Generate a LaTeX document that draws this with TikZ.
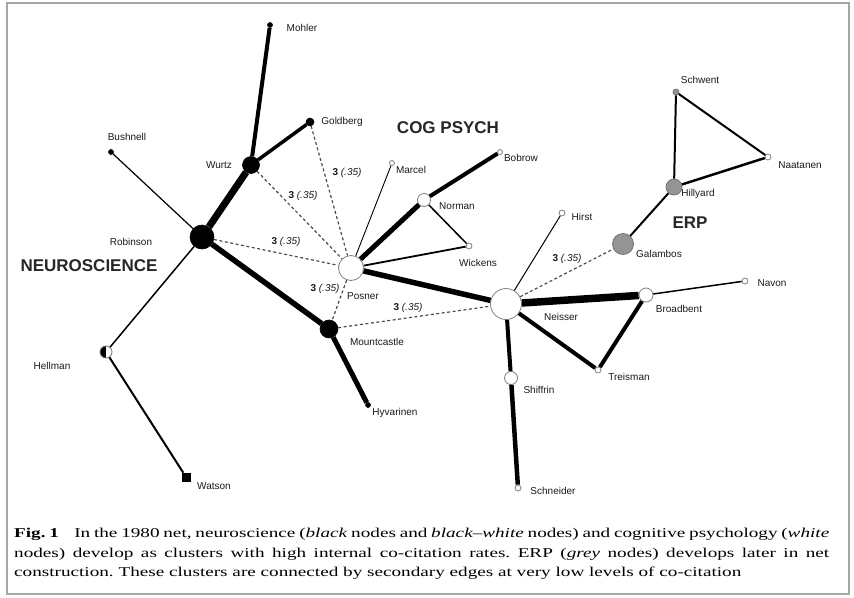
\documentclass[tikz,border=0pt]{standalone}
\usepackage{fontspec}
\setmainfont{Liberation Serif}
\setsansfont{Liberation Sans}
\usepackage{graphicx}

\begin{document}
\begin{tikzpicture}[x=1pt,y=-1pt,
  every node/.style={inner sep=0pt},
  blk/.style={circle,fill=black,draw=black,line width=0.6pt},
  wht/.style={circle,fill=white,draw=black!50,line width=0.8pt},
  gry/.style={circle,fill=black!42,draw=black!55,line width=0.8pt},
  hlf/.style={circle,fill=white,draw=black!55,line width=0.8pt,
    path picture={\fill[black] (path picture bounding box.south west) rectangle (path picture bounding box.north);}},
  nm/.style={font=\sffamily\fontsize{10}{11}\selectfont,text=black!90},
  grp/.style={font=\sffamily\bfseries\fontsize{17}{18}\selectfont,text=black!85},
  tie/.style={line width=#1},
  cit/.style={dash pattern=on 3pt off 2.5pt,line width=1.2pt,black!70},
  cv/.style={font=\sffamily\fontsize{10}{11}\selectfont,text=black!90}]
\useasboundingbox (0,0) rectangle (854,597);
\draw[black!35,line width=1.2pt] (7,3) rectangle (849,594);

% neuroscience
\node[blk,minimum size=24] (robinson) at (202,237) {};
\node[blk,minimum size=17] (wurtz) at (251,165) {};
\node[blk,minimum size=5] (mohler) at (270,25) {};
\node[blk,minimum size=8] (goldberg) at (310,122) {};
\node[blk,minimum size=5] (bushnell) at (111,152) {};
\node[blk,minimum size=18] (mountcastle) at (329,329) {};
\node[blk,minimum size=5] (hyvarinen) at (368,405) {};
\node[hlf,minimum size=12] (hellman) at (106,352) {};
\node[blk,rectangle,minimum size=8] (watson) at (186,477) {};

% cog psych
\node[wht,minimum size=25] (posner) at (351,268) {};
\node[wht,minimum size=5] (marcel) at (392,163) {};
\node[wht,minimum size=13] (norman) at (424,200) {};
\node[wht,minimum size=5] (bobrow) at (500,152) {};
\node[wht,minimum size=6] (wickens) at (469,246) {};
\node[wht,minimum size=31] (neisser) at (506,304) {};
\node[wht,minimum size=6] (hirst) at (562,213) {};
\node[wht,minimum size=14] (broadbent) at (646,295) {};
\node[wht,minimum size=6] (navon) at (745,281) {};
\node[wht,minimum size=6] (treisman) at (598,370) {};
\node[wht,minimum size=13] (shiffrin) at (511,378) {};
\node[wht,minimum size=6] (schneider) at (518,488) {};

% erp
\node[gry,minimum size=21] (galambos) at (623,244) {};
\node[gry,minimum size=16] (hillyard) at (674,187) {};
\node[gry,minimum size=6] (schwent) at (676,92) {};
\node[wht,minimum size=6] (naatanen) at (768,157) {};

\draw[tie=7] (robinson) -- (wurtz);
\draw[tie=4] (wurtz) -- (mohler);
\draw[tie=3.5] (wurtz) -- (goldberg);
\draw[tie=1.2] (robinson) -- (bushnell);
\draw[tie=1.5] (robinson) -- (hellman);
\draw[tie=2] (hellman) -- (watson);
\draw[tie=5.5] (robinson) -- (mountcastle);
\draw[tie=5] (mountcastle) -- (hyvarinen);

\draw[tie=0.9] (posner) -- (marcel);
\draw[tie=5] (posner) -- (norman);
\draw[tie=4] (norman) -- (bobrow);
\draw[tie=1.5] (norman) -- (wickens);
\draw[tie=1.8] (posner) -- (wickens);
\draw[tie=5.5] (posner) -- (neisser);
\draw[tie=1] (neisser) -- (hirst);
\draw[tie=7.5] (neisser) -- (broadbent);
\draw[tie=1.5] (broadbent) -- (navon);
\draw[tie=4] (broadbent) -- (treisman);
\draw[tie=4] (neisser) -- (treisman);
\draw[tie=4] (neisser) -- (shiffrin);
\draw[tie=4.5] (shiffrin) -- (schneider);

\draw[tie=2] (galambos) -- (hillyard);
\draw[tie=2] (hillyard) -- (schwent);
\draw[tie=2.5] (hillyard) -- (naatanen);
\draw[tie=2] (schwent) -- (naatanen);

% secondary edges
\draw[cit] (goldberg) -- (posner);
\draw[cit] (wurtz) -- (posner);
\draw[cit] (robinson) -- (posner);
\draw[cit] (posner) -- (mountcastle);
\draw[cit] (mountcastle) -- (neisser);
\draw[cit] (neisser) -- (galambos);
\node[cv] (c1) at (347,173) {\textbf{3} \textit{(.35)}};
\node[cv] (c2) at (303,196) {\textbf{3} \textit{(.35)}};
\node[cv] (c3) at (286,242) {\textbf{3} \textit{(.35)}};
\node[cv] (c4) at (325,289) {\textbf{3} \textit{(.35)}};
\node[cv] (c5) at (408,308) {\textbf{3} \textit{(.35)}};
\node[cv] (c6) at (567,259) {\textbf{3} \textit{(.35)}};

% names
\node[nm] (mohler-t) at (302,28) {Mohler};
\node[nm] (goldberg-t) at (342,122) {Goldberg};
\node[nm] (bushnell-t) at (127,137) {Bushnell};
\node[nm] (wurtz-t) at (219,165) {Wurtz};
\node[nm] (robinson-t) at (131,242) {Robinson};
\node[nm] (mountcastle-t) at (377,342) {Mountcastle};
\node[nm] (hyvarinen-t) at (395,413) {Hyvarinen};
\node[nm] (hellman-t) at (52,366) {Hellman};
\node[nm] (watson-t) at (214,486) {Watson};
\node[nm] (posner-t) at (363,296) {Posner};
\node[nm] (marcel-t) at (411,170) {Marcel};
\node[nm] (bobrow-t) at (521,158) {Bobrow};
\node[nm] (norman-t) at (457,206) {Norman};
\node[nm] (wickens-t) at (478,263) {Wickens};
\node[nm] (neisser-t) at (561,317) {Neisser};
\node[nm] (hirst-t) at (582,217) {Hirst};
\node[nm] (broadbent-t) at (679,309) {Broadbent};
\node[nm] (navon-t) at (772,283) {Navon};
\node[nm] (treisman-t) at (629,377) {Treisman};
\node[nm] (shiffrin-t) at (539,390) {Shiffrin};
\node[nm] (schneider-t) at (553,491) {Schneider};
\node[nm] (galambos-t) at (659,254) {Galambos};
\node[nm] (hillyard-t) at (698,194) {Hillyard};
\node[nm] (schwent-t) at (700,80) {Schwent};
\node[nm] (naatanen-t) at (800,165) {Naatanen};

\node[grp] (neuro) at (89,266) {NEUROSCIENCE};
\node[grp] (cog) at (448,128) {COG PSYCH};
\node[grp] (erp) at (690,223) {ERP};

% caption
\node[anchor=north west] (cap) at (14,528) {\scalebox{1.42}[1]{\parbox{574pt}{\fontsize{13.5}{19.6}\selectfont
  \frenchspacing\spaceskip=0.25em plus 0.25em minus 0.12em
  \textbf{Fig.~1}\hspace{0.6em} In the 1980 net, neuroscience (\textit{black} nodes and \textit{black--white} nodes) and cognitive psychology (\textit{white}\linebreak
  nodes) develop as clusters with high internal co-citation rates. ERP (\textit{grey} nodes) develops later in net\linebreak
  construction. These clusters are connected by secondary edges at very low levels of co-citation}}};
\end{tikzpicture}
\end{document}
